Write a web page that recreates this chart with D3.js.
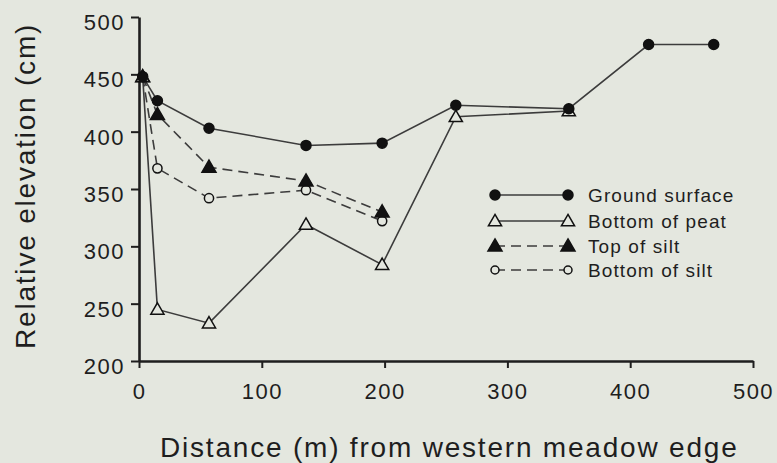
<!DOCTYPE html>
<html><head><meta charset="utf-8">
<script src="https://cdn.jsdelivr.net/npm/d3@7"></script>
<style>body{margin:0;background:#e4e7df;}svg{display:block;}</style>
</head><body>
<script>
const xTicks = [0,100,200,300,400,500];
const yTicks = [200,250,300,350,400,450,500];
const groundX = [3,15,57,136,198,258,350,415,468];
const groundY = [448,427,403,388,390,423,420,476,476];
const peatX = [3,15,57,136,198,258,350];
const peatY = [448,245,233,319,284,413,418];
const topSiltX = [3,15,57,136,198];
const topSiltY = [448,415,369,357,330];
const botSiltX = [3,15,57,136,198];
const botSiltY = [448,368,342,349,322];
const seriesNames = ["Ground surface","Bottom of peat","Top of silt","Bottom of silt"];

const W=777,H=463, bg="#e4e7df";
const svg=d3.select("body").append("svg").attr("width",W).attr("height",H);
svg.append("rect").attr("width",W).attr("height",H).attr("fill",bg);
const x=d3.scaleLinear().domain([0,500]).range([139,753]);
const y=d3.scaleLinear().domain([200,500]).range([361,17]);
const ink="#1e1e1e", lineCol="#3c3c3c";
const font="Liberation Sans, Arial, Helvetica, sans-serif";

const xa=svg.append("g").attr("transform",`translate(0,${y(200)})`)
  .call(d3.axisBottom(x).tickValues(xTicks).tickSize(7).tickPadding(15).tickSizeOuter(0));
const ya=svg.append("g").attr("transform",`translate(${x(0)},0)`)
  .call(d3.axisLeft(y).tickValues(yTicks).tickSize(8).tickPadding(6).tickSizeOuter(0));
[xa,ya].forEach(g=>{
  g.select(".domain").attr("stroke",ink).attr("stroke-width",2.6);
  g.selectAll(".tick line").attr("stroke",ink).attr("stroke-width",2);
  g.selectAll("text").attr("font-family",font).attr("font-size",22).attr("fill",ink)
   .attr("letter-spacing",1.5);
});
ya.selectAll("text").attr("dy","0.57em");

const series=[
 {xs:groundX,ys:groundY,dash:null,marker:"circle",fill:true},
 {xs:peatX,ys:peatY,dash:null,marker:"tri",fill:false},
 {xs:topSiltX,ys:topSiltY,dash:"10,6",marker:"tri",fill:true},
 {xs:botSiltX,ys:botSiltY,dash:"10,6",marker:"circle",fill:false}
];
const line=d3.line().x(d=>x(d[0])).y(d=>y(d[1]));
function drawMarker(g,cx,cy,s,small){
  if(s.marker==="circle"){
    g.append("circle").attr("cx",cx).attr("cy",cy).attr("r",s.fill?5:(small?4:4.6))
     .attr("fill",s.fill?"#111":bg).attr("stroke","#111").attr("stroke-width",1.5);
  } else {
    const sym=d3.symbol().type(d3.symbolTriangle).size(s.fill?85:75);
    g.append("path").attr("d",sym()).attr("transform",`translate(${cx},${cy+1})`)
     .attr("fill",s.fill?"#111":bg).attr("stroke","#111").attr("stroke-width",1.5);
  }
}
const order=[3,2,1,0];
order.forEach(i=>{
  const s=series[i];
  const pts=s.xs.map((v,j)=>[v,s.ys[j]]);
  svg.append("path").attr("d",line(pts)).attr("fill","none").attr("stroke",lineCol)
    .attr("stroke-width",1.6).attr("stroke-dasharray",s.dash);
});
order.forEach(i=>{
  const s=series[i];
  const g=svg.append("g");
  s.xs.forEach((v,j)=>drawMarker(g,x(v),y(s.ys[j]),s));
});

// legend
const lg=svg.append("g");
const rowsY=[195,221,246,270];
seriesNames.forEach((n,i)=>{
  const s=series[i], yy=rowsY[i];
  lg.append("line").attr("x1",495).attr("x2",568).attr("y1",yy).attr("y2",yy)
    .attr("stroke",lineCol).attr("stroke-width",1.6).attr("stroke-dasharray",s.dash?"10,6":null);
  drawMarker(lg,495,yy,s,true);
  drawMarker(lg,568,yy,s,true);
  lg.append("text").attr("x",588).attr("y",yy+7).text(n)
    .attr("font-family",font).attr("font-size",19).attr("letter-spacing",1.1).attr("fill",ink);
});

svg.append("text").attr("x",160).attr("y",457)
  .attr("font-family",font).attr("font-size",28).attr("letter-spacing",1.8).attr("fill",ink)
  .text("Distance (m) from western meadow edge");
svg.append("text").attr("transform","translate(35,349) rotate(-90)")
  .attr("font-family",font).attr("font-size",28).attr("letter-spacing",1.8).attr("fill",ink)
  .text("Relative elevation (cm)");
</script>
</body></html>
